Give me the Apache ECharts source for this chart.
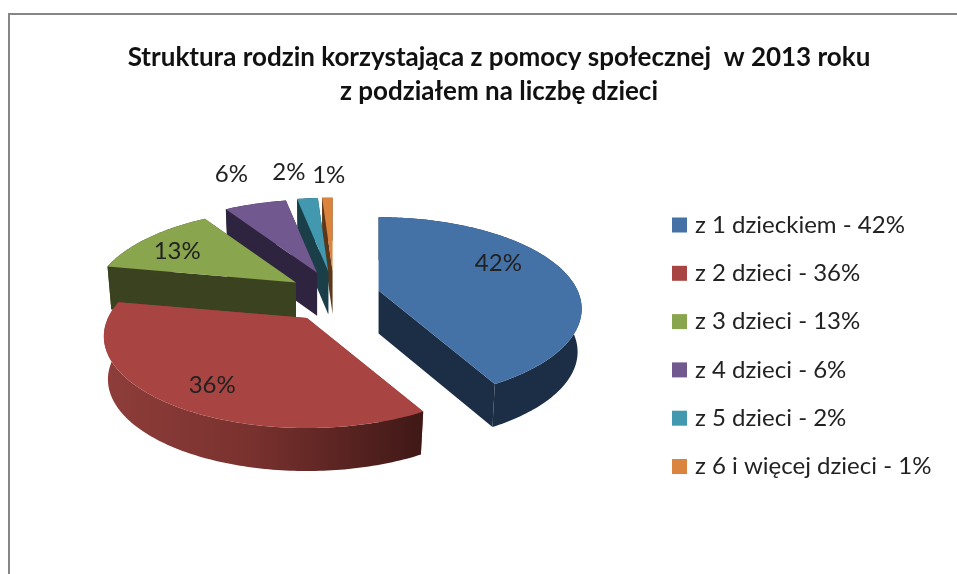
<!DOCTYPE html>
<html>
<head>
<meta charset="utf-8">
<style>
  html, body { margin: 0; padding: 0; background: #fff; }
  #main { width: 957px; height: 574px; }
</style>
</head>
<body>
<div id="main"></div>
<script src="https://cdn.jsdelivr.net/npm/echarts@6/dist/echarts.min.js"></script>
<script>
const titleLines = ["Struktura rodzin korzystająca z pomocy społecznej  w 2013 roku", "z podziałem na liczbę dzieci"];
const categories = ["z 1 dzieckiem - 42%", "z 2 dzieci - 36%", "z 3 dzieci - 13%", "z 4 dzieci - 6%", "z 5 dzieci - 2%", "z 6 i więcej dzieci - 1%"];
const values = [42, 36, 13, 6, 2, 1];

// styles, painted back to front through drawOrder
const colors = ["#4471a6", "#a84542", "#89a54e", "#71588f", "#4198af", "#db843d"];
const wallColors = ["#1b2e45", "#8e3d3a", "#3a421f", "#2e2440", "#1a3f49", "#5c3719"];
const drawOrder = [4, 5, 3, 2, 1, 0]; // z of each slice
// [radius in pie units, angle in degrees] of each value label
const labelPlacement = [[0.72, 63], [0.78, 212], [0.75, 301], [1.55, 339], [1.47, 350], [1.39, 359]];

// the tilted pie: pixels on screen for a point of the unit disc
const pie = { cx: 334, cy: 297, rx: 199, ry: 88, perspective: 0.2, explodeX: 46, explodeY: 26, depth: 43 };
const total = values.reduce((a, b) => a + b, 0);

function toRad(deg) {
  return (deg * Math.PI) / 180;
}

function project(origin, r, deg) {
  let u = r * Math.sin(toRad(deg));
  let v = r * Math.cos(toRad(deg));
  let s = 1 / (1 + pie.perspective * v);
  return [origin[0] + pie.rx * u * s, origin[1] - pie.ry * v * s];
}

function lower(origin, p) {
  return [origin[0] + (p[0] - origin[0]) * 0.98, p[1] + pie.depth];
}

function renderSlice(index, params, api) {
  let before = values.slice(0, index).reduce((a, b) => a + b, 0);
  let start = (before / total) * 360;
  let end = ((before + api.value(0)) / total) * 360;
  let mid = toRad((start + end) / 2);
  let origin = [pie.cx + pie.explodeX * Math.sin(mid), pie.cy - pie.explodeY * Math.cos(mid)];

  let arc = [];
  let steps = Math.max(4, Math.ceil(end - start));
  for (let i = 0; i <= steps; i++) {
    arc.push(project(origin, 1, start + ((end - start) * i) / steps));
  }
  let arcBelow = arc.map((p) => lower(origin, p)).reverse();
  let originBelow = lower(origin, origin);

  let wallFill = wallColors[index];
  if (index === 1) {
    wallFill = new echarts.graphic.LinearGradient(0, 0, 1, 0, [
      { offset: 0, color: "#8e3d3a" },
      { offset: 0.45, color: "#7a322f" },
      { offset: 1, color: "#3f1816" },
    ]);
  }
  let wall = (points, fill) => ({ type: "polygon", shape: { points: points }, style: { fill: fill } });
  let place = labelPlacement[index];
  let labelAt = project(origin, place[0], place[1]);

  return {
    type: "group",
    children: [
      wall([origin, arc[0], arcBelow[arcBelow.length - 1], originBelow], wallColors[index]),
      wall([origin, arc[arc.length - 1], arcBelow[0], originBelow], wallColors[index]),
      wall(arc.concat(arcBelow), wallFill),
      wall([origin].concat(arc), colors[index]),
      {
        type: "text",
        x: labelAt[0],
        y: labelAt[1],
        style: {
          text: api.value(0) + "%",
          fill: "#222",
          font: "24px Lato",
          align: "center",
          verticalAlign: "middle",
        },
      },
    ],
  };
}

let myChart = echarts.init(document.getElementById("main"), null, { renderer: "canvas" });
let option = {
  animation: false,
  backgroundColor: "#fff",
  color: colors,
  title: {
    text: titleLines.join("\n"),
    left: 494,
    top: 36,
    textAlign: "center",
    textStyle: {
      fontFamily: "Lato",
      fontSize: 26,
      fontWeight: "bold",
      color: "#111",
      lineHeight: 34,
    },
  },
  legend: {
    data: categories,
    orient: "vertical",
    left: 667,
    top: 208,
    icon: "rect",
    itemWidth: 15,
    itemHeight: 15,
    itemGap: 24.3,
    selectedMode: false,
    textStyle: {
      fontFamily: "Lato",
      fontSize: 24,
      color: "#222",
      padding: [0, 0, 0, 3],
    },
  },
  graphic: [
    {
      type: "rect",
      silent: true,
      z: -1,
      shape: { x: 9, y: 14, width: 1000, height: 620 },
      style: { fill: "#fff", stroke: "#868686", lineWidth: 2 },
    },
  ],
  series: categories.map((name, i) => ({
    name: name,
    type: "custom",
    coordinateSystem: "none",
    silent: true,
    z: 2 + drawOrder[i],
    data: [[values[i]]],
    renderItem: (params, api) => renderSlice(i, params, api),
  })),
};
myChart.setOption(option);
window.addEventListener("resize", () => {
  myChart.resize();
});
</script>
</body>
</html>
